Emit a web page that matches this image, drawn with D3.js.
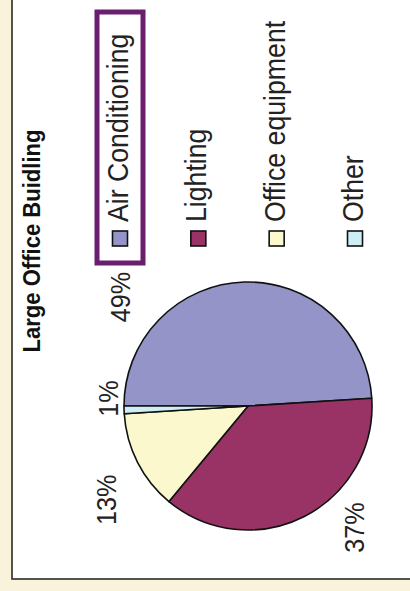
<!DOCTYPE html>
<html>
<head>
<meta charset="utf-8">
<script src="https://cdn.jsdelivr.net/npm/d3@7"></script>
<style>
  body { margin: 0; background: #faf3dc; }
  svg { display: block; font-family: "Liberation Sans", Arial, sans-serif; }
</style>
</head>
<body>
<svg width="410" height="591"></svg>
<script>
const title = "Large Office Buidling";
const categories = ["Air Conditioning", "Lighting", "Office equipment", "Other"];
const shares = [49, 37, 13, 1];
const colors = ["#9494c8", "#993366", "#fbf8cd", "#cdeef4"];
// percent label spots: degrees clockwise from top, distance from centre (chart frame)
const labelSpots = [[40.4, 168], [229, 161], [326.5, 170], [3, 140]];

const W = 410, H = 591;
const svg = d3.select("svg");

// white panel with dark border
svg.append("rect")
  .attr("x", 12).attr("y", -4)
  .attr("width", W).attr("height", 583)
  .attr("fill", "#fff")
  .attr("stroke", "#2a2a2a")
  .attr("stroke-width", 1.6);

// the whole chart is drawn turned a quarter turn to the left
const g = svg.append("g")
  .attr("transform", `translate(0,${H}) rotate(-90)`);

// narrow-ish type like the original: scale along the text direction
const narrow = (x, y, sx) => `translate(${x},${y}) scale(${sx},1)`;

// title
g.append("text")
  .attr("transform", narrow(350, 40, 0.96))
  .attr("text-anchor", "middle")
  .attr("font-weight", "bold")
  .attr("font-size", 23)
  .attr("fill", "#111")
  .text(title);

// pie
const cx = 185, cy = 248, radius = 124;
const pie = d3.pie().sort(null).value(d => d)(shares);
const arc = d3.arc().innerRadius(0).outerRadius(radius);

const pg = g.append("g").attr("transform", `translate(${cx},${cy})`);
pg.selectAll("path")
  .data(pie)
  .join("path")
  .attr("d", arc)
  .attr("fill", (d, i) => colors[i])
  .attr("stroke", "#111")
  .attr("stroke-width", 1.6)
  .attr("stroke-linejoin", "round");

pg.selectAll("text.pct")
  .data(pie)
  .join("text")
  .attr("class", "pct")
  .attr("transform", (d, i) => {
    const a = labelSpots[i][0] * Math.PI / 180, r = labelSpots[i][1];
    return narrow(r * Math.sin(a), -r * Math.cos(a), 0.9);
  })
  .attr("dy", "0.36em")
  .attr("text-anchor", "middle")
  .attr("font-size", 28)
  .attr("fill", "#222")
  .text(d => Math.round(d.value / d3.sum(shares) * 100) + "%");

// legend
const ly = d3.scalePoint().domain(categories).range([120, 355]);
const sq = 15, sqX = 345;

g.append("rect")
  .attr("x", 328).attr("y", ly(categories[0]) - 23)
  .attr("width", 251).attr("height", 46)
  .attr("fill", "none")
  .attr("stroke", "#6a1f6e")
  .attr("stroke-width", 5);

const items = g.selectAll("g.item")
  .data(categories)
  .join("g")
  .attr("class", "item");

items.append("rect")
  .attr("x", sqX)
  .attr("y", d => ly(d) - sq / 2)
  .attr("width", sq).attr("height", sq)
  .attr("fill", (d, i) => colors[i])
  .attr("stroke", "#111")
  .attr("stroke-width", 1.6);

items.append("text")
  .attr("transform", d => narrow(369, ly(d) + 8, 0.92))
  .attr("font-size", 29)
  .attr("fill", "#222")
  .text(d => d);
</script>
</body>
</html>
